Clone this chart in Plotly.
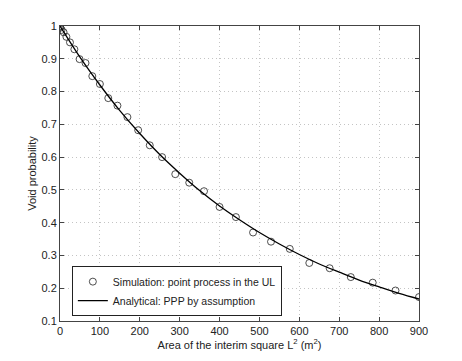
import plotly.graph_objects as go

# simulation: area L^2 for L = 0..30
sim_area = [0, 1, 4, 9, 16, 25, 36, 49, 64, 81, 100, 121, 144, 169, 196, 225, 256, 289,
            324, 361, 400, 441, 484, 529, 576, 625, 676, 729, 784, 841, 900]
sim_void = [1.0, 0.995, 0.988, 0.981, 0.967, 0.950, 0.929, 0.899, 0.887, 0.847, 0.823, 0.780,
            0.757, 0.722, 0.682, 0.636, 0.600, 0.548, 0.522, 0.496, 0.448, 0.417, 0.370,
            0.342, 0.320, 0.277, 0.261, 0.234, 0.217, 0.193, 0.173]

# analytical curve
ana_area = [0, 50, 100, 150, 200, 250, 300, 350, 400, 450, 500, 550, 600, 650, 700, 750,
            800, 850, 900]
ana_void = [1.0, 0.905, 0.820, 0.742, 0.672, 0.608, 0.551, 0.498, 0.451, 0.409, 0.370,
            0.335, 0.303, 0.274, 0.249, 0.225, 0.204, 0.184, 0.167]

fig = go.Figure()
fig.add_trace(go.Scatter(x=sim_area, y=sim_void, mode="markers",
                         name="Simulation: point process in the UL",
                         marker=dict(symbol="circle-open", size=7, color="#222",
                                     line=dict(width=0.8, color="#222"))))
fig.add_trace(go.Scatter(x=ana_area, y=ana_void, mode="lines",
                         name="Analytical: PPP by assumption",
                         line=dict(color="black", width=1.3, shape="spline")))

axis_common = dict(showline=True, linecolor="#444", linewidth=1, mirror="ticks",
                   ticks="inside", ticklen=4, tickcolor="#444",
                   showgrid=True, gridcolor="#c4c4c4", griddash="1px,3px", gridwidth=1,
                   zeroline=False, tickfont=dict(size=11, color="#222"))

fig.update_xaxes(range=[0, 900], dtick=100, tick0=0,
                 title=dict(text="Area of the interim square L<sup>2</sup> (m<sup>2</sup>)",
                            font=dict(size=11, color="#222"), standoff=2),
                 **axis_common)
fig.update_yaxes(range=[0.1, 1.0], dtick=0.1, tick0=0.1,
                 title=dict(text="Void probability", font=dict(size=11, color="#222"),
                            standoff=2),
                 **axis_common)

fig.update_layout(width=462, height=361,
                  margin=dict(l=60, r=43, t=26, b=40),
                  paper_bgcolor="white", plot_bgcolor="white",
                  font=dict(family="Liberation Sans, Arial, sans-serif", size=11, color="#222"),
                  legend=dict(x=0.033, y=0.186, xanchor="left", yanchor="top",
                              bgcolor="white", bordercolor="#222", borderwidth=1,
                              font=dict(size=10.5), tracegroupgap=0, itemwidth=30),
                  showlegend=True)

fig.write_html("out.html", config={"displayModeBar": False},
               post_script="document.body.style.margin='0';")
